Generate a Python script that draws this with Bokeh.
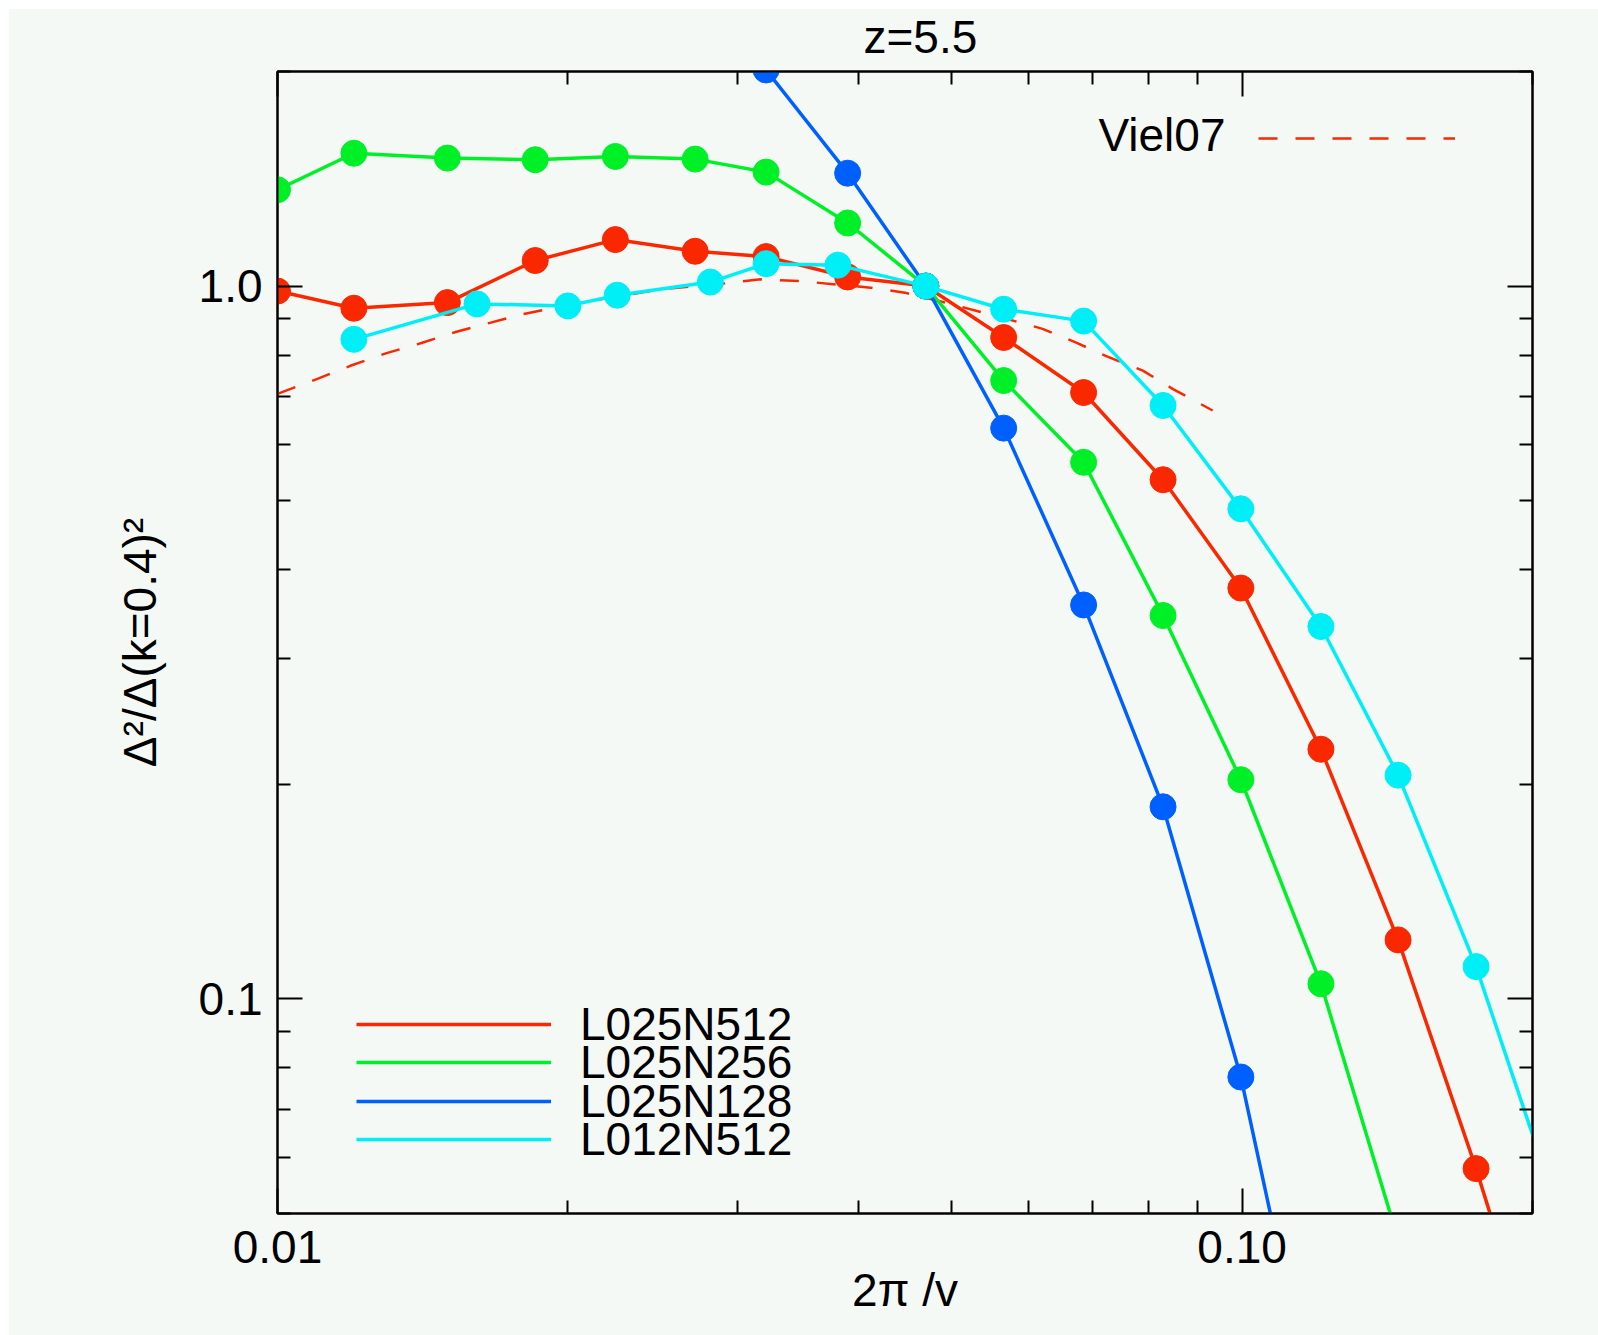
from bokeh.plotting import figure
from bokeh.models import (Range1d, LogAxis, FixedTicker, PrintfTickFormatter,
                          CustomJSTickFormatter, Label, Legend, LegendItem, Title)
from bokeh.embed import file_html
from bokeh.resources import INLINE

# ---------------- data ----------------
k_sim = [0.0100, 0.0120, 0.0150, 0.0185, 0.0224, 0.0271, 0.0321, 0.0390, 0.0470,
         0.0566, 0.0685, 0.0828, 0.0997, 0.1207, 0.1451, 0.1748, 0.2107]
L025N512 = [0.984, 0.931, 0.948, 1.086, 1.162, 1.119, 1.100, 1.030, 1.000,
            0.847, 0.709, 0.535, 0.377, 0.224, 0.121, 0.0578, 0.0257]
L025N256 = [1.365, 1.536, 1.512, 1.504, 1.520, 1.507, 1.445, 1.226, 1.000,
            0.737, 0.566, 0.345, 0.203, 0.105, 0.046]
k_128 = [0.0321, 0.0390, 0.0470, 0.0566, 0.0685, 0.0828, 0.0997, 0.1207]
L025N128 = [2.01, 1.44, 1.00, 0.632, 0.357, 0.186, 0.0777, 0.0235]
k_012 = [0.0120, 0.0161, 0.0200, 0.0225, 0.0281, 0.0321, 0.0381, 0.0470,
         0.0566, 0.0685, 0.0828, 0.0997, 0.1207, 0.1451, 0.1748, 0.2107]
L012N512 = [0.842, 0.944, 0.938, 0.971, 1.013, 1.075, 1.070, 1.000,
            0.928, 0.893, 0.680, 0.487, 0.333, 0.206, 0.111, 0.0523]
k_viel = [0.0100, 0.0110, 0.0119, 0.0130, 0.0141, 0.0153, 0.0166, 0.0180, 0.0211,
          0.0250, 0.0284, 0.0317, 0.0349, 0.0412, 0.0447, 0.0500, 0.0571, 0.0621,
          0.0673, 0.0722, 0.0789, 0.0848, 0.0932]
Viel07 = [0.706, 0.741, 0.773, 0.806, 0.832, 0.862, 0.888, 0.914, 0.953,
          0.990, 1.005, 1.022, 1.016, 0.995, 0.979, 0.943, 0.899, 0.871,
          0.833, 0.798, 0.761, 0.717, 0.669]

x_major = [0.01, 0.1]
x_minor = [0.02, 0.03, 0.04, 0.05, 0.06, 0.07, 0.08, 0.09, 0.2]
y_major = [0.1, 1.0]
y_minor = [0.05, 0.06, 0.07, 0.08, 0.09, 0.2, 0.3, 0.4, 0.5, 0.6, 0.7, 0.8, 0.9, 2.0]

title_text = "z=5.5"
x_label = "2π /v"
y_label = "Δ²/Δ(k=0.4)²"

# ---------------- style ----------------
FONT = "Liberation Sans"
FS = "46px"
BG = "#f5f9f6"
RED = "#fa2800"
GREEN = "#00f028"
BLUE = "#0060ff"
CYAN = "#00eef5"

p = figure(width=1590, height=1327, x_axis_type="log", y_axis_type="log",
           x_range=Range1d(0.01, 0.2), y_range=Range1d(0.05, 2.0),
           output_backend="svg", toolbar_location=None, title=None,
           min_border_left=269, min_border_right=66,
           min_border_top=63, min_border_bottom=122,
           background_fill_color=BG, border_fill_color=BG)
p.margin = (8, 0, 0, 8)
p.grid.visible = False
p.outline_line_color = "black"
p.outline_line_width = 2


def style_axis(ax):
    ax.major_tick_in = 25
    ax.major_tick_out = 0
    ax.minor_tick_in = 13
    ax.minor_tick_out = 0
    ax.major_tick_line_width = 2
    ax.minor_tick_line_width = 2
    ax.axis_line_width = 2
    ax.major_tick_line_color = "black"
    ax.minor_tick_line_color = "black"
    ax.axis_line_color = "black"
    ax.major_label_text_font = FONT
    ax.major_label_text_font_size = FS
    ax.major_label_text_color = "black"
    ax.axis_label_text_font = FONT
    ax.axis_label_text_font_size = FS
    ax.axis_label_text_font_style = "normal"
    ax.axis_label_text_color = "black"


xa = p.xaxis[0]
xa.ticker = FixedTicker(ticks=x_major, minor_ticks=x_minor)
xa.formatter = PrintfTickFormatter(format="%.2f")
style_axis(xa)
xa.major_label_standoff = 17
xa.axis_label = x_label
xa.axis_label_standoff = -2

ya = p.yaxis[0]
ya.ticker = FixedTicker(ticks=y_major, minor_ticks=y_minor)
ya.formatter = PrintfTickFormatter(format="%.1f")
style_axis(ya)
ya.major_label_standoff = 15
ya.axis_label = y_label
ya.axis_label_standoff = 30

top = LogAxis(ticker=FixedTicker(ticks=x_major, minor_ticks=x_minor),
              formatter=CustomJSTickFormatter(code="return ' '"))
style_axis(top)
top.major_label_text_font_size = "1px"
top.major_label_standoff = 5
p.add_layout(top, "above")
right = LogAxis(ticker=FixedTicker(ticks=y_major, minor_ticks=y_minor),
                formatter=CustomJSTickFormatter(code="return ''"))
style_axis(right)
right.major_label_text_font_size = "1px"
right.major_label_standoff = 0
p.add_layout(right, "right")

p.add_layout(Title(text=title_text, align="left", offset=586, standoff=0,
                   text_font=FONT, text_font_size=FS, text_font_style="normal",
                   text_color="black"), "above")

# ---------------- series ----------------
r_viel = p.line(k_viel, Viel07, line_color=RED, line_width=2.5, line_dash="19 18")
r_red = p.line(k_sim, L025N512, line_color=RED, line_width=3.5)
p.scatter(k_sim, L025N512, size=26, color=RED)
r_green = p.line(k_sim[:len(L025N256)], L025N256, line_color=GREEN, line_width=3.5)
p.scatter(k_sim[:len(L025N256)], L025N256, size=26, color=GREEN)
r_blue = p.line(k_128, L025N128, line_color=BLUE, line_width=3.5)
p.scatter(k_128, L025N128, size=26, color=BLUE)
r_cyan = p.line(k_012, L012N512, line_color=CYAN, line_width=3.5)
p.scatter(k_012, L012N512, size=26, color=CYAN)


# ---------------- legends ----------------
def make_legend(label, renderer, loc, gw=195):
    lg = Legend(items=[LegendItem(label=label, renderers=[renderer])], location=loc,
                padding=0, margin=0, spacing=0, glyph_width=gw, glyph_height=60,
                label_height=60, label_standoff=29, label_text_font=FONT,
                label_text_font_size=FS, label_text_color="black",
                background_fill_alpha=0, border_line_color=None)
    p.add_layout(lg)


for i, (lab, rr) in enumerate([("L025N512", r_red), ("L025N256", r_green),
                               ("L025N128", r_blue), ("L012N512", r_cyan)]):
    make_legend(lab, rr, (79, round(159 - 38.4 * i)))
make_legend(" ", r_viel, (981, 1045), gw=197)

p.add_layout(Label(x=948, y=1079, x_units="screen", y_units="screen", text="Viel07",
                   text_align="right", text_baseline="middle", text_font=FONT,
                   text_font_size=FS, text_color="black"))

open("out.html", "w").write(file_html(p, INLINE))
